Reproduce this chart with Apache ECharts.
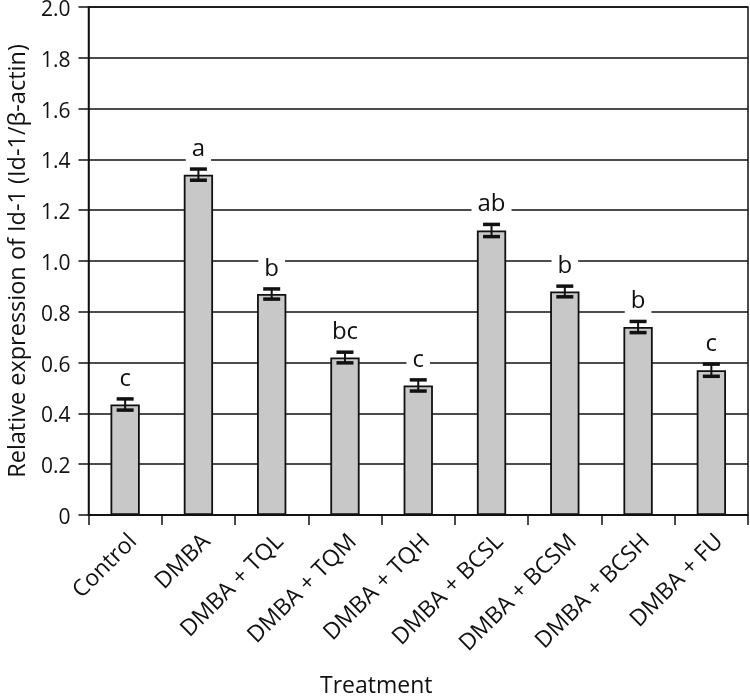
<!DOCTYPE html>
<html>
<head>
<meta charset="utf-8">
<script src="https://cdn.jsdelivr.net/npm/echarts@6/dist/echarts.min.js"></script>
<style>html,body{margin:0;padding:0;background:#fff}#c{width:750px;height:696px}</style>
</head>
<body>
<div id="c"></div>
<script>
var categories = ['Control','DMBA','DMBA + TQL','DMBA + TQM','DMBA + TQH','DMBA + BCSL','DMBA + BCSM','DMBA + BCSH','DMBA + FU'];
var values = [0.435, 1.34, 0.87, 0.62, 0.51, 1.12, 0.88, 0.74, 0.57];
var errors = [0.022, 0.022, 0.02, 0.021, 0.022, 0.024, 0.021, 0.022, 0.024];
var letters = ['c','a','b','bc','c','ab','b','b','c'];

var FONT = '"Open Sans", "Noto Sans", sans-serif';
var chart = echarts.init(document.getElementById('c'));
var errData = values.map(function(v, i){ return [i, v, errors[i]]; });

chart.setOption({
  animation: false,
  grid: {left: 88.5, right: 2, top: 7, bottom: 181, containLabel: false, outerBoundsMode: 'none',
         show: true, borderColor: '#111', borderWidth: 1.5, backgroundColor: 'transparent'},
  xAxis: {
    type: 'category', data: categories,
    name: 'Treatment', nameLocation: 'middle', nameGap: 160,
    nameTextStyle: {fontFamily: FONT, fontSize: 23, color: '#111', padding: [0, 84, 0, 0]},
    axisLine: {lineStyle: {color: '#111', width: 1.5}},
    axisTick: {show: true, alignWithLabel: false, length: 10, lineStyle: {color: '#111', width: 1.5}},
    axisLabel: {rotate: 45, margin: 15, verticalAlign: 'top', fontFamily: FONT, fontSize: 23, color: '#111', interval: 0}
  },
  yAxis: {
    type: 'value', min: 0, max: 2.0, interval: 0.2,
    name: 'Relative expression of Id-1 (Id-1/β-actin)', nameLocation: 'middle', nameGap: 58,
    nameTextStyle: {fontFamily: FONT, fontSize: 23.5, color: '#111'},
    axisLine: {show: true, lineStyle: {color: '#111', width: 1.5}},
    axisTick: {show: true, inside: false, length: 10, lineStyle: {color: '#111', width: 1.5}},
    axisLabel: {margin: 18, color: '#111',
      formatter: function(v){ return '{t|' + (v === 0 ? '0' : v.toFixed(1)) + '}'; },
      rich: {t: {fontFamily: FONT, fontSize: 21, color: '#111', padding: [6, 0, 0, 0]}}},
    splitLine: {show: true, lineStyle: {color: '#111', width: 1.5}}
  },
  series: [
    {
      type: 'bar', data: values, barWidth: '40%',
      itemStyle: {color: '#c8c8c8', borderColor: '#111', borderWidth: 1.8},
      z: 2
    },
    {
      type: 'custom', data: errData, z: 5,
      renderItem: function(params, api){
        var i = api.value(0), v = api.value(1), e = api.value(2);
        var top = api.coord([i, v + e]);
        var bot = api.coord([i, v - e]);
        var x = top[0], hw = 8.5;
        return {
          type: 'group',
          children: [
            {type: 'line', shape: {x1: x, y1: top[1], x2: x, y2: bot[1]}, style: {stroke: '#111', lineWidth: 2}},
            {type: 'line', shape: {x1: x - hw, y1: top[1], x2: x + hw, y2: top[1]}, style: {stroke: '#111', lineWidth: 3.5}},
            {type: 'line', shape: {x1: x - hw, y1: bot[1], x2: x + hw, y2: bot[1]}, style: {stroke: '#111', lineWidth: 3.5}},
            {type: 'text', x: x, y: top[1] - 20,
             style: {text: letters[params.dataIndex], fill: '#111', font: '24px ' + FONT, align: 'center', verticalAlign: 'middle',
               backgroundColor: '#fff', padding: [0, 6]}}
          ]
        };
      }
    }
  ]
});
</script>
</body>
</html>
